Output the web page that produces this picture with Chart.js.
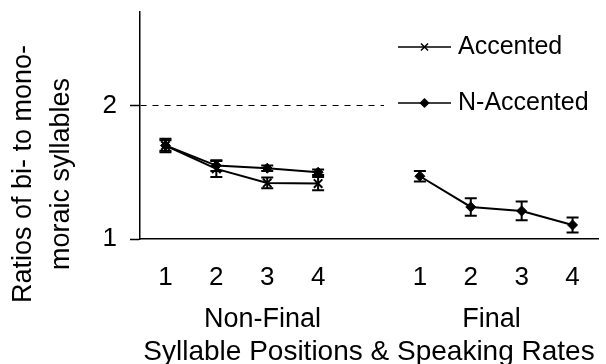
<!DOCTYPE html>
<html>
<head>
<meta charset="utf-8">
<script src="https://cdn.jsdelivr.net/npm/chart.js@4/dist/chart.umd.min.js"></script>
<style>
  body { margin: 0; background: #fff; }
  #wrap { width: 606px; height: 364px; position: relative; }
</style>
</head>
<body>
<div id="wrap"><canvas id="chart"></canvas></div>
<script>
const positionLabels = ['1', '2', '3', '4', '', '1', '2', '3', '4'];
const groupLabels = ['Non-Final', 'Final'];
const yTicks = [1, 2];

const accented = [1.70, 1.525, 1.42, 1.415, null, null, null, null, null];
const accentedErr = [0.05, 0.06, 0.04, 0.05, null, null, null, null, null];
const nAccented = [1.70, 1.55, 1.53, 1.50, null, 1.47, 1.24, 1.21, 1.105];
const nAccentedErr = [0.04, 0.04, 0.02, 0.02, null, 0.04, 0.065, 0.07, 0.056];

const FONT = '"Liberation Sans", Arial, sans-serif';

// error bars drawn from each dataset's "errors" array
const errorBars = {
    id: 'errorBars',
    afterDatasetsDraw(chart) {
        const ctx = chart.ctx;
        const yScale = chart.scales.y;
        chart.data.datasets.forEach((ds, i) => {
            const meta = chart.getDatasetMeta(i);
            ctx.save();
            ctx.strokeStyle = '#000';
            ctx.lineWidth = 2;
            meta.data.forEach((pt, j) => {
                const v = ds.data[j];
                const e = ds.errors[j];
                if (v == null || e == null) return;
                const top = yScale.getPixelForValue(v + e);
                const bot = yScale.getPixelForValue(v - e);
                ctx.beginPath();
                ctx.moveTo(pt.x, top);
                ctx.lineTo(pt.x, bot);
                ctx.moveTo(pt.x - 6, top);
                ctx.lineTo(pt.x + 6, top);
                ctx.moveTo(pt.x - 6, bot);
                ctx.lineTo(pt.x + 6, bot);
                ctx.stroke();
            });
            ctx.restore();
        });
    }
};

// legend inside the plot, line with marker in the middle
const insideLegend = {
    id: 'insideLegend',
    afterDatasetsDraw(chart) {
        const ctx = chart.ctx;
        const rows = [47, 103];
        ctx.save();
        ctx.fillStyle = '#fff';
        ctx.fillRect(384, 24, 214, 96);
        chart.data.datasets.forEach((ds, i) => {
            const y = rows[i];
            ctx.strokeStyle = '#000';
            ctx.fillStyle = '#000';
            ctx.lineWidth = 1.5;
            ctx.beginPath();
            ctx.moveTo(398, y);
            ctx.lineTo(451, y);
            ctx.stroke();
            Chart.helpers.drawPoint(ctx, {
                pointStyle: ds.pointStyle,
                radius: ds.pointStyle === 'crossRot' ? 5 : 4,
                borderWidth: 1.5,
                rotation: 0
            }, 424.5, y);
            ctx.font = '25px ' + FONT;
            ctx.textBaseline = 'middle';
            ctx.textAlign = 'left';
            ctx.fillStyle = '#000';
            ctx.fillText(ds.label, 458, y);
        });
        ctx.restore();
    }
};

// two-line rotated y title
const yTitle = {
    id: 'yTitle',
    afterDraw(chart) {
        const ctx = chart.ctx;
        ctx.save();
        ctx.translate(0, 174);
        ctx.rotate(-Math.PI / 2);
        ctx.font = '27px ' + FONT;
        ctx.fillStyle = '#000';
        ctx.textAlign = 'center';
        ctx.textBaseline = 'middle';
        ctx.fillText('Ratios of bi- to mono-', 0, 24);
        ctx.fillText('moraic syllables', 0, 62);
        ctx.restore();
    }
};

new Chart(document.getElementById('chart'), {
    type: 'line',
    data: {
        labels: positionLabels,
        datasets: [
            {
                label: 'Accented',
                data: accented,
                errors: accentedErr,
                borderColor: '#000',
                borderWidth: 2,
                pointStyle: 'crossRot',
                pointRadius: 6,
                pointBorderWidth: 2,
                pointBorderColor: '#000',
                pointBackgroundColor: '#000',
                spanGaps: false,
                tension: 0
            },
            {
                label: 'N-Accented',
                data: nAccented,
                errors: nAccentedErr,
                borderColor: '#000',
                borderWidth: 2,
                pointStyle: 'rectRot',
                pointRadius: 5,
                pointBorderWidth: 1,
                pointBorderColor: '#000',
                pointBackgroundColor: '#000',
                spanGaps: false,
                tension: 0
            }
        ]
    },
    options: {
        responsive: true,
        maintainAspectRatio: false,
        animation: false,
        layout: { padding: { top: 12, left: 0, right: 0, bottom: 0 } },
        plugins: {
            legend: { display: false },
            tooltip: { enabled: false }
        },
        scales: {
            x: {
                type: 'category',
                offset: true,
                afterFit: (scale) => { scale.height = 60; },
                grid: { display: false, drawTicks: false },
                border: { color: '#000', width: 1.5 },
                ticks: {
                    color: '#000',
                    font: { family: FONT, size: 26 },
                    padding: 23,
                    autoSkip: false,
                    maxRotation: 0
                }
            },
            x2: {
                type: 'category',
                position: 'bottom',
                labels: groupLabels,
                offset: true,
                afterFit: (scale) => { scale.height = 65; },
                grid: { display: false, drawTicks: false },
                border: { display: false },
                ticks: {
                    color: '#000',
                    font: { family: FONT, size: 27 },
                    padding: 4,
                    labelOffset: 8,
                    autoSkip: false,
                    maxRotation: 0
                },
                title: {
                    display: true,
                    text: 'Syllable Positions & Speaking Rates',
                    color: '#000',
                    font: { family: FONT, size: 28 },
                    padding: { top: 0, bottom: -5 }
                }
            },
            y: {
                min: 1,
                max: 2.7,
                afterBuildTicks: (scale) => {
                    scale.ticks = yTicks.map(v => ({ value: v }));
                },
                afterFit: (scale) => {
                    scale.width = 140;
                    scale.paddingTop = 0;
                    scale.paddingBottom = 0;
                },
                grid: {
                    color: (c) => (c.tick && c.tick.value === 2 ? '#000' : 'transparent'),
                    lineWidth: 1,
                    tickColor: '#000',
                    tickLength: 10,
                    tickWidth: 1.5
                },
                border: { color: '#000', width: 1.5, dash: [6, 6] },
                ticks: {
                    color: '#000',
                    font: { family: FONT, size: 26 },
                    padding: 13
                }
            }
        }
    },
    plugins: [errorBars, insideLegend, yTitle]
});
</script>
</body>
</html>
